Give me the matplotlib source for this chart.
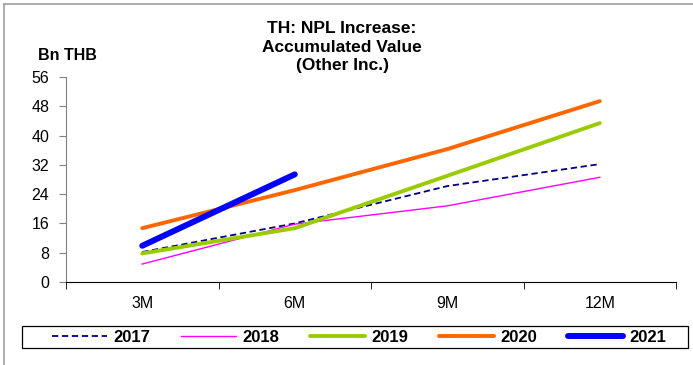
import matplotlib.pyplot as plt
from matplotlib.lines import Line2D
from matplotlib.patches import Rectangle

plt.rcParams['font.family'] = ['Liberation Sans', 'DejaVu Sans']

periods = ['3M', '6M', '9M', '12M']
y2017 = [8.2, 16.0, 26.2, 32.2]
y2018 = [4.9, 15.8, 20.8, 28.6]
y2019 = [7.8, 14.7, 29.0, 43.4]
y2020 = [14.7, 25.1, 36.3, 49.4]
y2021 = [9.9, 29.4]

W, H = 693, 365
fig = plt.figure(figsize=(W / 100, H / 100), dpi=100)
ax = fig.add_axes([66 / W, 1 - 282 / H, 610 / W, 205 / H])

x = list(range(len(periods)))
ax.plot(x, y2017, color='#000080', lw=1.3, ls=(0, (3.5, 2)), label='2017')
ax.plot(x, y2018, color='#FF00FF', lw=1.0, label='2018')
ax.plot(x, y2019, color='#99CC00', lw=2.8, solid_capstyle='round', label='2019')
ax.plot(x, y2020, color='#FF6600', lw=2.8, solid_capstyle='round', label='2020')
ax.plot(x[:len(y2021)], y2021, color='#0000FF', lw=4.3, solid_capstyle='round', label='2021')

ax.set_xlim(-0.5, len(periods) - 0.5)
ax.set_ylim(0, 56)
ax.set_yticks(range(0, 57, 8))
ax.set_xticks(x)
ax.set_xticklabels(periods)
ax.set_xticks([i - 0.5 for i in range(len(periods) + 1)], minor=True)
ax.tick_params(axis='x', which='major', length=0, pad=10, labelsize=11.5)
ax.tick_params(axis='x', which='minor', length=5, direction='out', color='black')
ax.tick_params(axis='y', length=5, direction='out', color='#808080', labelsize=11.5, pad=7)
ax.spines['top'].set_visible(False)
ax.spines['right'].set_visible(False)
ax.spines['left'].set_color('#808080')
ax.spines['bottom'].set_color('black')

fig.text(342 / W, 1 - 47 / H, 'TH: NPL Increase:\nAccumulated Value\n(Other Inc.)',
         ha='center', va='center', ma='center', fontsize=12.5, fontweight='bold',
         linespacing=1.3)
fig.text(67 / W, 1 - 55 / H, 'Bn THB', ha='center', va='center',
         fontsize=11.5, fontweight='bold')

# legend box drawn separately so its size matches the reference
fig.add_artist(Rectangle((22 / W, 1 - 348 / H), 666 / W, 22 / H, fill=False,
                         edgecolor='black', lw=0.9, transform=fig.transFigure))
fig.legend(loc='center', bbox_to_anchor=(359 / W, 1 - 337 / H), ncol=5,
           frameon=False, handlelength=3.3, columnspacing=1.85, handletextpad=0.38,
           borderpad=0.1, prop={'weight': 'bold', 'size': 12})

# outer chart frame (left and top edges visible)
fig.add_artist(Line2D([4 / W, 4 / W], [0, 1 - 4 / H], color='#A0A0A0', lw=1.2,
                      transform=fig.transFigure))
fig.add_artist(Line2D([4 / W, 1], [1 - 4 / H, 1 - 4 / H], color='#A0A0A0', lw=1.2,
                      transform=fig.transFigure))

fig.savefig('out.png', dpi=100)
